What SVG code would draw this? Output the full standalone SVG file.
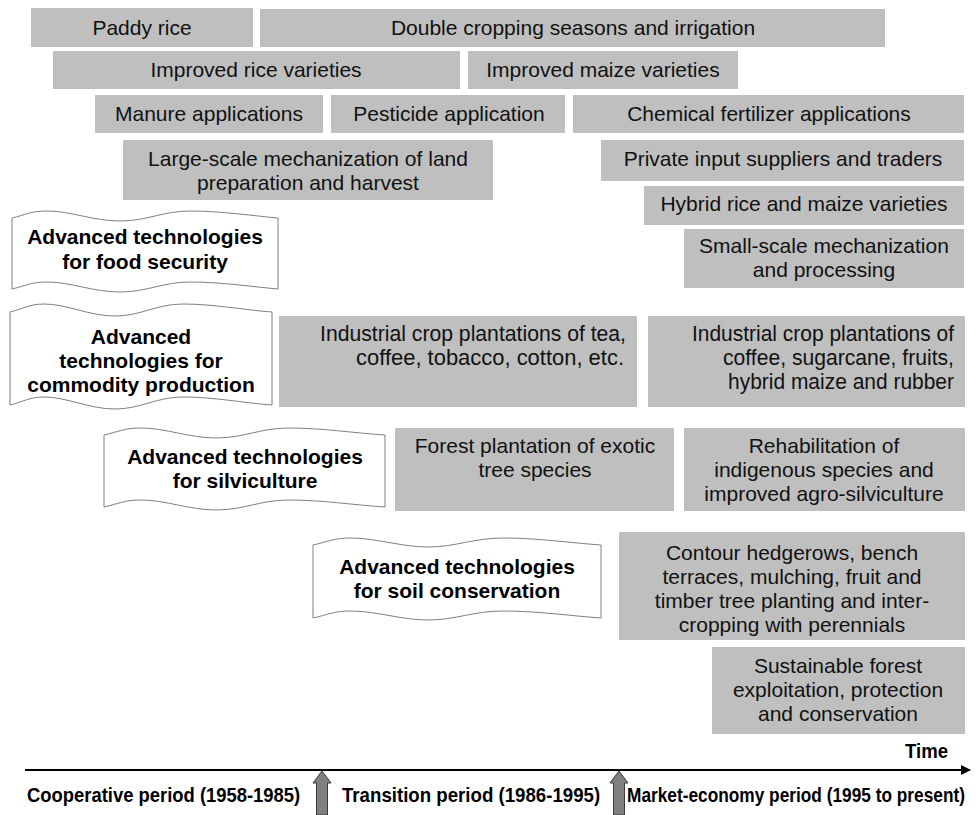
<svg xmlns="http://www.w3.org/2000/svg" width="976" height="815" viewBox="0 0 976 815">
  <style>
    .box { fill: #bfbfbf; }
    .t { font-family: "Liberation Sans", Arial, sans-serif; font-size: 21px; fill: #111; text-anchor: middle; }
    .tn { font-family: "Liberation Sans", Arial, sans-serif; font-size: 22px; fill: #111; text-anchor: end; }
    .banner { fill: #ffffff; stroke: #7f7f7f; stroke-width: 1; }
    .bt { font-family: "Liberation Sans", Arial, sans-serif; font-size: 21px; font-weight: bold; fill: #000; text-anchor: middle; }
    .pt { font-family: "Liberation Sans", Arial, sans-serif; font-size: 19.5px; font-weight: bold; fill: #000; }
    .axis { stroke: #000; stroke-width: 2; fill: none; }
    .marker { fill: #808080; stroke: #3a3a3a; stroke-width: 1; }
  </style>
  <defs>
    <marker id="axisHead" viewBox="0 0 10 10" refX="9" refY="5" markerWidth="5" markerHeight="5" orient="auto">
      <path d="M0,0 L10,5 L0,10 Z" fill="#000"/>
    </marker>
  </defs>

  <!-- Technology boxes -->
  <g id="paddy-rice"><rect class="box" x="31" y="8" width="222" height="39"/><text class="t" x="142" y="35">Paddy rice</text></g>
  <g id="double-cropping"><rect class="box" x="260" y="9" width="625" height="38"/><text class="t" x="573" y="35">Double cropping seasons and irrigation</text></g>
  <g id="improved-rice"><rect class="box" x="53" y="51" width="407" height="38"/><text class="t" x="256" y="77">Improved rice varieties</text></g>
  <g id="improved-maize"><rect class="box" x="468" y="51" width="270" height="38"/><text class="t" x="603" y="77">Improved maize varieties</text></g>
  <g id="manure"><rect class="box" x="95" y="95" width="228" height="38"/><text class="t" x="209" y="121">Manure applications</text></g>
  <g id="pesticide"><rect class="box" x="331" y="95" width="234" height="38"/><text class="t" x="449" y="121">Pesticide application</text></g>
  <g id="chemical-fertilizer"><rect class="box" x="573" y="95" width="391" height="38"/><text class="t" x="769" y="121">Chemical fertilizer applications</text></g>
  <g id="large-scale-mechanization"><rect class="box" x="123" y="140" width="370" height="60"/>
    <text class="t" x="308" y="166">Large-scale mechanization of land</text>
    <text class="t" x="308" y="190">preparation and harvest</text></g>
  <g id="private-suppliers"><rect class="box" x="601" y="140" width="363" height="41"/><text class="t" x="783" y="166">Private input suppliers and traders</text></g>
  <g id="hybrid-varieties"><rect class="box" x="644" y="186" width="320" height="39"/><text class="t" x="804" y="211">Hybrid rice and maize varieties</text></g>
  <g id="small-scale-mechanization"><rect class="box" x="684" y="229" width="280" height="59"/>
    <text class="t" x="824" y="253">Small-scale mechanization</text>
    <text class="t" x="824" y="277">and processing</text></g>

  <!-- Narrow, right-aligned plantation texts -->
  <g id="industrial-crops-1"><rect class="box" x="279" y="316" width="358" height="91"/>
    <text class="tn" x="626" y="341" textLength="306" lengthAdjust="spacingAndGlyphs">Industrial crop plantations of tea,</text>
    <text class="tn" x="624" y="365" textLength="268" lengthAdjust="spacingAndGlyphs">coffee, tobacco, cotton, etc.</text></g>
  <g id="industrial-crops-2"><rect class="box" x="648" y="316" width="317" height="91"/>
    <text class="tn" x="954" y="341" textLength="262" lengthAdjust="spacingAndGlyphs">Industrial crop plantations of</text>
    <text class="tn" x="954" y="365" textLength="231" lengthAdjust="spacingAndGlyphs">coffee, sugarcane, fruits,</text>
    <text class="tn" x="954" y="389" textLength="226" lengthAdjust="spacingAndGlyphs">hybrid maize and rubber</text></g>

  <g id="forest-plantation"><rect class="box" x="395" y="428" width="279" height="83"/>
    <text class="t" x="535" y="453">Forest plantation of exotic</text>
    <text class="t" x="535" y="477">tree species</text></g>
  <g id="rehabilitation"><rect class="box" x="684" y="428" width="281" height="83"/>
    <text class="t" x="824" y="453">Rehabilitation of</text>
    <text class="t" x="824" y="477">indigenous species and</text>
    <text class="t" x="824" y="501">improved agro-silviculture</text></g>

  <g id="contour-hedgerows"><rect class="box" x="619" y="532" width="346" height="108"/>
    <text class="t" x="792" y="560">Contour hedgerows, bench</text>
    <text class="t" x="792" y="584">terraces, mulching, fruit and</text>
    <text class="t" x="792" y="608">timber tree planting and inter-</text>
    <text class="t" x="792" y="632">cropping with perennials</text></g>
  <g id="sustainable-forest"><rect class="box" x="712" y="647" width="253" height="87"/>
    <text class="t" x="838" y="673">Sustainable forest</text>
    <text class="t" x="838" y="697">exploitation, protection</text>
    <text class="t" x="838" y="721">and conservation</text></g>

  <!-- Wave banners for the technology themes -->
  <g id="banner-food-security">
    <path class="banner" d="M12,218 C25,215 31,211 47,211 C71,211 93,221 120,221 C147,221 163,211 190,211 C222,211 254,216 278,218 L278,289 C254,287 222,282 190,282 C163,282 147,292 120,292 C93,292 71,282 47,282 C31,282 25,286 12,289 Z"/>
    <text class="bt" x="145" y="244">Advanced technologies</text>
    <text class="bt" x="145" y="269">for food security</text>
  </g>
  <g id="banner-commodity">
    <path class="banner" d="M10,312 C23,309 29,304 44,304 C67,304 89,316 115,316 C141,316 156,304 183,304 C214,304 244,310 272,312 L272,405 C244,403 214,397 183,397 C156,397 141,409 115,409 C89,409 67,397 44,397 C29,397 23,402 10,405 Z"/>
    <text class="bt" x="141" y="344">Advanced</text>
    <text class="bt" x="141" y="368">technologies for</text>
    <text class="bt" x="141" y="392">commodity production</text>
  </g>
  <g id="banner-silviculture">
    <path class="banner" d="M104,435 C118,432 124,428 141,428 C166,428 189,438 216,438 C244,438 260,428 289,428 C322,428 354,433 385,435 L385,507 C354,505 322,500 289,500 C260,500 244,510 216,510 C189,510 166,500 141,500 C124,500 118,504 104,507 Z"/>
    <text class="bt" x="245" y="464">Advanced technologies</text>
    <text class="bt" x="245" y="488">for silviculture</text>
  </g>
  <g id="banner-soil-conservation">
    <path class="banner" d="M313,545 C327,542 334,538 350,538 C377,538 401,547 428,547 C456,547 473,538 503,538 C538,538 572,543 601,545 L601,618 C572,616 538,611 503,611 C473,611 456,620 428,620 C401,620 377,611 350,611 C334,611 327,615 313,618 Z"/>
    <text class="bt" x="457" y="574">Advanced technologies</text>
    <text class="bt" x="457" y="598">for soil conservation</text>
  </g>

  <!-- Time axis and period markers -->
  <g id="connectors">
    <line class="axis" x1="25" y1="770" x2="970" y2="770" marker-end="url(#axisHead)"/>
    <path class="marker" d="M322,771 L331,783 L327.5,783 L327.5,815 L316.5,815 L316.5,783 L313,783 Z"/>
    <path class="marker" d="M619,771 L628,783 L624.5,783 L624.5,815 L613.5,815 L613.5,783 L610,783 Z"/>
  </g>
  <g id="axis-labels">
    <text class="pt" x="905" y="758" textLength="43" lengthAdjust="spacingAndGlyphs">Time</text>
    <g transform="translate(27,802) scale(0.887,1)"><text class="pt" x="0" y="0" textLength="308" lengthAdjust="spacingAndGlyphs">Cooperative period (1958-1985)</text></g>
    <g transform="translate(342,802) scale(0.887,1)"><text class="pt" x="0" y="0" textLength="291" lengthAdjust="spacingAndGlyphs">Transition period (1986-1995)</text></g>
    <g transform="translate(627,802) scale(0.887,1)"><text class="pt" x="0" y="0" textLength="381" lengthAdjust="spacingAndGlyphs">Market-economy period (1995 to present)</text></g>
  </g>
</svg>
